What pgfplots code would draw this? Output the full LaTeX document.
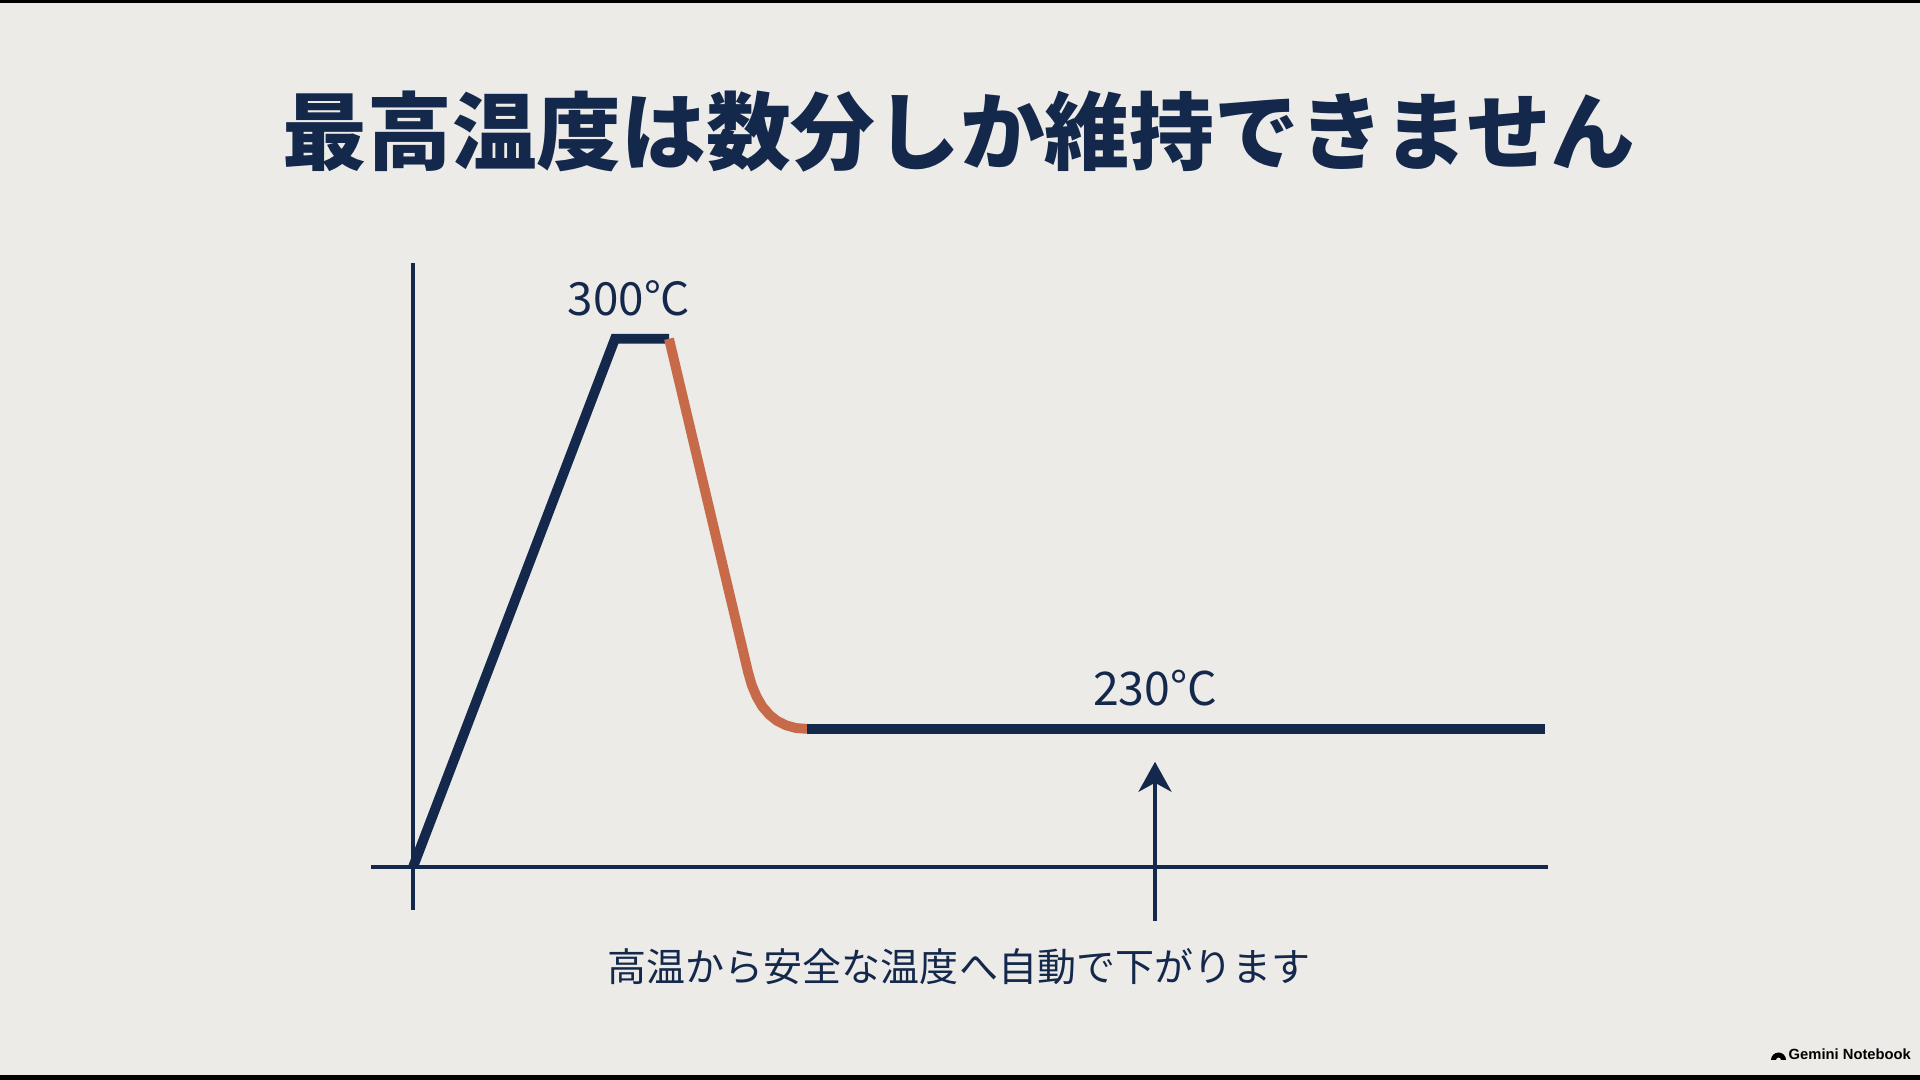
\documentclass[border=0pt]{standalone}
\usepackage{pgfplots}
\pgfplotsset{compat=1.18}
\usepackage{fontspec}
\usetikzlibrary{arrows.meta}
\newfontfamily\cjk{Noto Sans CJK JP}
\newfontfamily\wm{Liberation Sans}
\definecolor{bg}{HTML}{ECEBE7}
\definecolor{navy}{HTML}{13284B}
\definecolor{rust}{HTML}{C76A4A}

\begin{document}
\begin{tikzpicture}
  % slide background, 1 px = 0.01 cm
  \fill[bg] (0,0) rectangle (19.2,10.8);
  \fill[black] (0,10.77) rectangle (19.2,10.8);
  \fill[black] (0,0) rectangle (19.2,0.05);

  \node[text=navy, font=\cjk\bfseries\fontsize{24.1}{28}\selectfont]
    at (9.59,9.48) {最高温度は数分しか維持できません};

  \begin{axis}[
      at={(3.71cm,1.70cm)},
      anchor=south west,
      scale only axis,
      width=11.77cm,
      height=6.47cm,
      xmin=-4.2, xmax=113.5,
      ymin=197.5, ymax=313.6,
      hide axis,
      clip=false,
    ]
    % axis lines
    \draw[navy, line width=1pt] (axis cs:0,197.5) -- (axis cs:0,313.6);
    \draw[navy, line width=1.1pt] (axis cs:-4.2,205.2) -- (axis cs:113.5,205.2);

    % heating and peak
    \addplot[navy, line width=2.8pt, mark=none]
      coordinates {(0,205.2) (20.2,300) (25.6,300)};
    % cooling
    \addplot[rust, line width=2.8pt, mark=none, line join=round]
      coordinates {(25.6,300) (33.5,240.22) (33.88,237.82) (34.37,235.75) (34.94,233.99)
                   (35.63,232.55) (36.41,231.43) (37.31,230.63) (38.30,230.15) (39.4,230)};
    % hold
    \addplot[navy, line width=2.8pt, mark=none]
      coordinates {(39.4,230) (113.2,230)};

    \node[text=navy, font=\cjk\fontsize{13}{16}\selectfont] at (axis cs:21.6,307.2) {300°C};
    \node[text=navy, font=\cjk\fontsize{13.2}{16}\selectfont] at (axis cs:74.2,237.35) {230°C};

    \draw[navy, line width=1.1pt, -{Stealth[length=3mm,width=3.3mm,inset=0.9mm]}]
      (axis cs:74.2,195.5) -- (axis cs:74.2,224.1);
  \end{axis}

  \node[text=navy, font=\cjk\fontsize{11.1}{13}\selectfont]
    at (9.59,1.13) {高温から安全な温度へ自動で下がります};

  % watermark
  \fill[black] (17.71,0.20) arc (180:0:0.075) -- (17.81,0.20) arc (0:180:0.025) -- cycle;
  \node[anchor=west, inner sep=0pt, font=\wm\bfseries\fontsize{4.2}{5}\selectfont]
    at (17.88,0.255) {Gemini Notebook};
\end{tikzpicture}
\end{document}
